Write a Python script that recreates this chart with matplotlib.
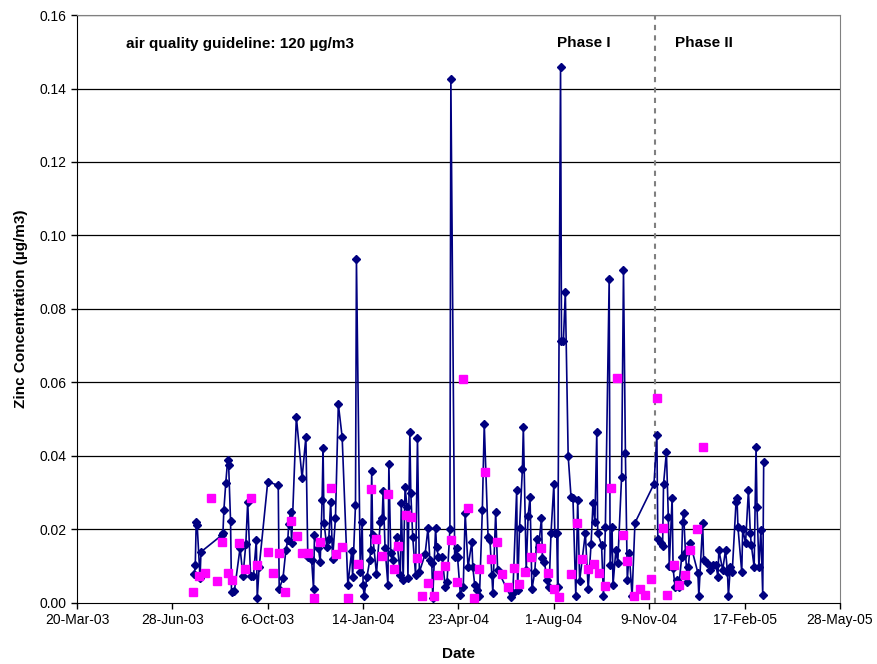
import matplotlib
matplotlib.use('Agg')
import matplotlib.pyplot as plt
import matplotlib.dates as mdates
import numpy as np
import pandas as pd

plt.rcParams['font.family'] = ['Liberation Sans', 'DejaVu Sans']

start = pd.Timestamp('2003-03-20')

# zinc, blue series: days after 20-Mar-03 and concentration
zn_days = [123, 124, 125, 126, 129, 130, 152, 153, 154, 156, 158, 159, 161, 162, 165, 171,
           174, 177, 179, 182, 185, 188, 189, 191, 200, 211, 212, 216, 219, 221, 222, 224,
           225, 230, 236, 240, 242, 246, 248, 249, 253, 255, 257, 258, 259, 262, 264, 266,
           268, 271, 274, 278, 284, 288, 289, 292, 293, 297, 299, 300, 301, 304, 307, 308,
           309, 310, 314, 318, 320, 321, 323, 326, 327, 329, 331, 335, 339, 340, 342, 344,
           346, 347, 349, 350, 352, 355, 357, 359, 365, 368, 370, 372, 373, 376, 377, 379,
           383, 386, 388, 391, 392, 396, 398, 399, 402, 405, 407, 410, 414, 415, 417, 419,
           422, 425, 427, 431, 433, 435, 436, 439, 441, 455, 457, 461, 462, 464, 467, 468,
           471, 473, 475, 477, 480, 482, 484, 487, 488, 490, 493, 495, 497, 500, 501, 503,
           504, 507, 508, 510, 512, 515, 518, 520, 523, 525, 527, 533, 536, 539, 541, 543,
           545, 546, 550, 552, 554, 558, 559, 561, 562, 565, 567, 571, 573, 575, 577, 579,
           582, 585, 605, 608, 609, 612, 614, 615, 618, 620, 621, 624, 625, 627, 629, 631,
           634, 635, 636, 638, 640, 641, 643, 651, 652, 656, 657, 661, 664, 667, 670, 672,
           673, 677, 680, 682, 683, 685, 687, 691, 692, 693, 697, 698, 701, 704, 706, 707,
           710, 712, 713, 715, 717, 719, 720]
zn_vals = [0.0079, 0.0103, 0.0220, 0.0212, 0.0068, 0.0139, 0.0185, 0.0190, 0.0253, 0.0327,
           0.0390, 0.0375, 0.0223, 0.0030, 0.0033, 0.0150, 0.0073, 0.0160, 0.0275, 0.0073,
           0.0073, 0.0171, 0.0014, 0.0098, 0.0330, 0.0320, 0.0038, 0.0068, 0.0144, 0.0171,
           0.0215, 0.0248, 0.0163, 0.0506, 0.0340, 0.0452, 0.0125, 0.0117, 0.0038, 0.0185,
           0.0150, 0.0112, 0.0280, 0.0422, 0.0218, 0.0152, 0.0174, 0.0275, 0.0120, 0.0231,
           0.0541, 0.0452, 0.0049, 0.0141, 0.0071, 0.0267, 0.0936, 0.0084, 0.0220, 0.0050,
           0.0019, 0.0071, 0.0117, 0.0144, 0.0359, 0.0185, 0.0079, 0.0220, 0.0231, 0.0305,
           0.0150, 0.0049, 0.0378, 0.0136, 0.0117, 0.0180, 0.0076, 0.0272, 0.0063, 0.0316,
           0.0261, 0.0068, 0.0465, 0.0299, 0.0180, 0.0076, 0.0449, 0.0084, 0.0133, 0.0204,
           0.0117, 0.0109, 0.0014, 0.0204, 0.0152, 0.0125, 0.0125, 0.0044, 0.0057, 0.0201,
           0.1426, 0.0125, 0.0150, 0.0125, 0.0022, 0.0044, 0.0245, 0.0098, 0.0166, 0.0098,
           0.0049, 0.0035, 0.0019, 0.0253, 0.0487, 0.0180, 0.0171, 0.0076, 0.0027, 0.0248,
           0.0090, 0.0016, 0.0027, 0.0307, 0.0035, 0.0204, 0.0365, 0.0479, 0.0090, 0.0237,
           0.0288, 0.0038, 0.0084, 0.0174, 0.0152, 0.0231, 0.0122, 0.0112, 0.0063, 0.0044,
           0.0190, 0.0324, 0.0190, 0.0190, 0.0044, 0.1458, 0.0713, 0.0713, 0.0846, 0.0400,
           0.0288, 0.0286, 0.0019, 0.0280, 0.0060, 0.0190, 0.0038, 0.0160, 0.0272, 0.0220,
           0.0465, 0.0190, 0.0158, 0.0019, 0.0207, 0.0882, 0.0103, 0.0207, 0.0049, 0.0144,
           0.0109, 0.0343, 0.0906, 0.0408, 0.0063, 0.0136, 0.0019, 0.0218, 0.0324, 0.0457,
           0.0174, 0.0163, 0.0155, 0.0324, 0.0411, 0.0234, 0.0101, 0.0286, 0.0095, 0.0044,
           0.0063, 0.0044, 0.0125, 0.0220, 0.0245, 0.0136, 0.0057, 0.0098, 0.0163, 0.0082,
           0.0019, 0.0218, 0.0117, 0.0109, 0.0090, 0.0103, 0.0103, 0.0071, 0.0144, 0.0090,
           0.0144, 0.0084, 0.0019, 0.0098, 0.0084, 0.0275, 0.0286, 0.0207, 0.0084, 0.0201,
           0.0163, 0.0307, 0.0190, 0.0158, 0.0098, 0.0424, 0.0261, 0.0098, 0.0199, 0.0022,
           0.0384]

# pink squares
pk_days = [122, 128, 134, 140, 147, 152, 158, 163, 170, 176, 182, 189, 200, 205, 212, 218,
           224, 231, 236, 242, 248, 255, 266, 272, 278, 284, 295, 308, 314, 320, 326, 332,
           337, 345, 350, 356, 362, 368, 374, 379, 386, 392, 398, 405, 410, 416, 421, 428,
           434, 440, 446, 452, 458, 463, 470, 476, 487, 494, 500, 505, 518, 524, 530, 536,
           542, 547, 554, 560, 566, 572, 577, 584, 590, 596, 602, 608, 614, 619, 626, 631,
           638, 643, 650, 656]
pk_vals = [0.0030, 0.0073, 0.0082, 0.0286, 0.0060, 0.0166, 0.0082, 0.0063, 0.0163, 0.0093,
           0.0286, 0.0103, 0.0139, 0.0082, 0.0136, 0.0030, 0.0223, 0.0182, 0.0136, 0.0136,
           0.0014, 0.0166, 0.0313, 0.0133, 0.0152, 0.0014, 0.0106, 0.0310, 0.0174, 0.0128,
           0.0297, 0.0093, 0.0155, 0.0240, 0.0234, 0.0122, 0.0019, 0.0054, 0.0019, 0.0076,
           0.0101, 0.0171, 0.0057, 0.0610, 0.0259, 0.0014, 0.0093, 0.0356, 0.0120, 0.0166,
           0.0079, 0.0044, 0.0095, 0.0052, 0.0084, 0.0125, 0.0150, 0.0082, 0.0038, 0.0016,
           0.0079, 0.0218, 0.0120, 0.0093, 0.0106, 0.0082, 0.0046, 0.0313, 0.0612, 0.0185,
           0.0114, 0.0019, 0.0038, 0.0022, 0.0065, 0.0558, 0.0204, 0.0022, 0.0103, 0.0049,
           0.0076, 0.0144, 0.0201, 0.0424]

phase_split = '2004-11-15'

zn_dates = start + pd.to_timedelta(zn_days, unit='D')
pk_dates = start + pd.to_timedelta(pk_days, unit='D')

fig = plt.figure(figsize=(8.77, 6.64), dpi=100)
ax = fig.add_axes([0.0878, 0.0919, 0.8700, 0.8855])

for yv in np.arange(0.02, 0.161, 0.02):
    ax.axhline(yv, color='black', lw=0.9, zorder=1)

ax.plot(zn_dates, zn_vals, color='#000080', lw=1.2, marker='D', markersize=4.5, zorder=3)
ax.plot(pk_dates, pk_vals, ls='none', marker='s', color='#FF00FF', markersize=6, zorder=4)

ax.axvline(pd.Timestamp(phase_split), color='#808080', lw=1.5, ls=(0, (2.5, 2.5)), zorder=2)

xticks = [start + pd.Timedelta(days=100 * i) for i in range(9)]
ax.set_xlim(xticks[0], xticks[-1])
ax.set_xticks(xticks)
ax.xaxis.set_major_formatter(mdates.DateFormatter('%-d-%b-%y'))
ax.set_ylim(0, 0.16)
ax.set_yticks(np.arange(0, 0.161, 0.02))
ax.yaxis.set_major_formatter(matplotlib.ticker.FormatStrFormatter('%.2f'))
ax.tick_params(labelsize=10, direction='out', length=4, width=1)

for s in ['top', 'right']:
    ax.spines[s].set_color('#808080')
for s in ['left', 'bottom']:
    ax.spines[s].set_color('black')

ax.set_xlabel('Date', fontsize=11, fontweight='bold', labelpad=14)
ax.set_ylabel('Zinc Concentration (µg/m3)', fontsize=11, fontweight='bold', labelpad=8)

ax.text(pd.Timestamp('2003-05-10'), 0.152, 'air quality guideline: 120 µg/m3',
        fontsize=11, fontweight='bold', va='center')
ax.text(pd.Timestamp('2004-09-01'), 0.1525, 'Phase I', fontsize=11, fontweight='bold',
        va='center', ha='center')
ax.text(pd.Timestamp('2005-01-05'), 0.1525, 'Phase II', fontsize=11, fontweight='bold',
        va='center', ha='center')

plt.savefig('out.png', dpi=100)
